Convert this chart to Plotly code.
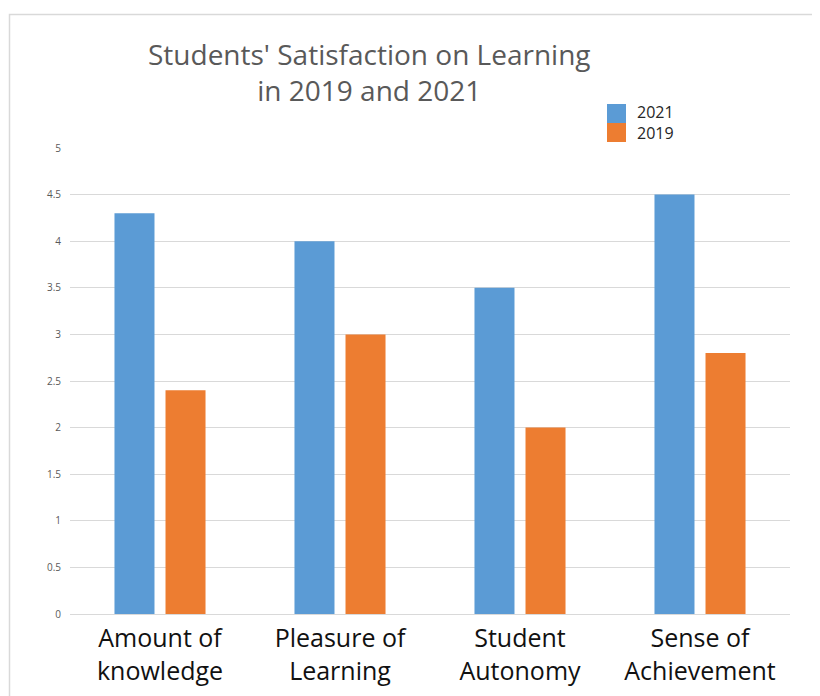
import plotly.graph_objects as go

categories = ["Amount of<br>knowledge", "Pleasure of<br>Learning", "Student<br>Autonomy", "Sense of<br>Achievement"]
values_2021 = [4.3, 4.0, 3.5, 4.5]
values_2019 = [2.4, 3.0, 2.0, 2.8]
y_ticks = [0, 0.5, 1, 1.5, 2, 2.5, 3, 3.5, 4, 4.5, 5]
y_tick_labels = ["0", "0.5", "1", "1.5", "2", "2.5", "3", "3.5", "4", "4.5", "5"]
title_text = "Students' Satisfaction on Learning<br>in 2019 and 2021"

BLUE = "#5B9BD5"
ORANGE = "#ED7D31"
FONT = "Open Sans"

fig = go.Figure()
fig.add_trace(go.Bar(x=categories, y=values_2021, name="2021", marker=dict(color=BLUE, line=dict(width=0)), showlegend=False))
fig.add_trace(go.Bar(x=categories, y=values_2019, name="2019", marker=dict(color=ORANGE, line=dict(width=0)), showlegend=False))

# page body has an 8px margin; work in screenshot coordinates and offset
OFF = 8
W, H = 812, 688
L = 70 - OFF
T = 148 - OFF
R = W - (790 - OFF)
B = H - (614 - OFF)
pw, ph = W - L - R, H - T - B

def px(x):
    return (x - OFF - L) / pw

def py(y):
    return (H - B - (y - OFF)) / ph

shapes = [
    dict(type="rect", xref="paper", yref="paper", x0=px(9.5), y0=py(720), x1=px(840), y1=py(14.5),
         line=dict(color="#D9D9D9", width=1.5), fillcolor="rgba(0,0,0,0)", layer="below"),
    dict(type="rect", xref="paper", yref="paper", x0=px(607), x1=px(626), y0=py(123), y1=py(104),
         line=dict(width=0), fillcolor=BLUE),
    dict(type="rect", xref="paper", yref="paper", x0=px(607), x1=px(626), y0=py(142), y1=py(123),
         line=dict(width=0), fillcolor=ORANGE),
]
annotations = [
    dict(text="2021", xref="paper", yref="paper", x=px(635), y=py(112), xanchor="left", yanchor="middle",
         showarrow=False, font=dict(family=FONT, size=16, color="#262626")),
    dict(text="2019", xref="paper", yref="paper", x=px(635), y=py(133), xanchor="left", yanchor="middle",
         showarrow=False, font=dict(family=FONT, size=16, color="#262626")),
    dict(text=title_text, xref="paper", yref="paper", x=px(369), y=py(72), xanchor="center", yanchor="middle",
         align="center", showarrow=False, font=dict(family=FONT, size=28, color="#595959")),
]

fig.update_layout(
    width=W, height=H,
    margin=dict(l=L, r=R, t=T, b=B, autoexpand=False),
    paper_bgcolor="white", plot_bgcolor="white",
    barmode="group", bargap=0.433, bargroupgap=0.216,
    shapes=shapes, annotations=annotations,
    showlegend=False,
    xaxis=dict(showgrid=False, showline=False, ticks="", ticklabelstandoff=7, automargin=False,
               tickfont=dict(family=FONT, size=25, color="#111111")),
    yaxis=dict(range=[0, 5], tickvals=y_ticks, ticktext=y_tick_labels, showgrid=True, gridcolor="#D9D9D9",
               gridwidth=1.3, zeroline=True, zerolinecolor="#D9D9D9", zerolinewidth=1.3, showline=False,
               automargin=False, ticks="", ticklabelstandoff=8,
               tickfont=dict(family=FONT, size=10, color="#595959")),
)

fig.write_html("out.html")
